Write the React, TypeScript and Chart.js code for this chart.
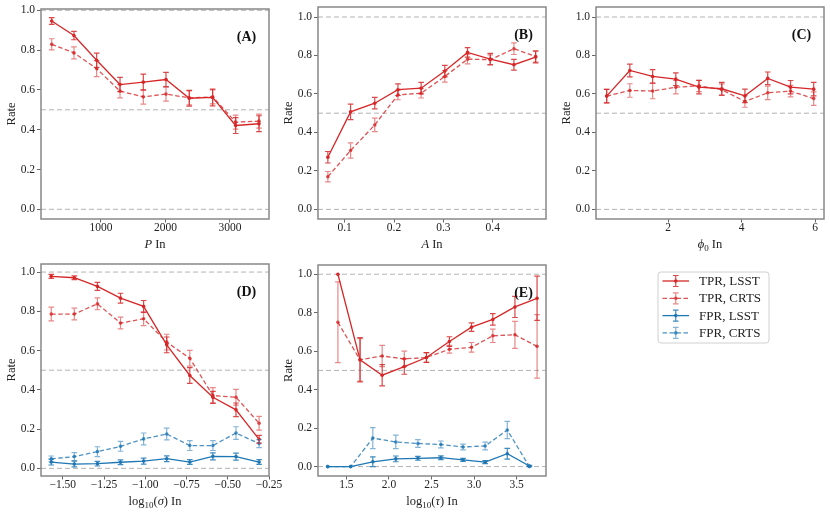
import React, { useEffect, useRef } from 'react';
import { Chart, registerables } from 'chart.js';

Chart.register(...registerables);

const FONT = "'Liberation Serif', 'DejaVu Serif', serif";
Chart.defaults.font.family = FONT;

// ---------- data ----------
const yTicks = [0, 0.2, 0.4, 0.6, 0.8, 1.0];
const refLevels = [0, 0.5, 1];

// (A) period P
const aX = [236, 581, 933, 1295, 1656, 2008, 2369, 2731, 3088, 3450];
const aTprLsst = [0.946, 0.873, 0.749, 0.627, 0.639, 0.652, 0.558, 0.562, 0.421, 0.43];
const aTprLsstErr = [0.017, 0.021, 0.036, 0.036, 0.04, 0.036, 0.04, 0.042, 0.04, 0.04];
const aTprCrts = [0.829, 0.786, 0.707, 0.594, 0.565, 0.579, 0.56, 0.565, 0.438, 0.443];
const aTprCrtsErr = [0.028, 0.03, 0.04, 0.034, 0.036, 0.035, 0.035, 0.035, 0.035, 0.035];
const aTicks = [1000, 2000, 3000];
const aTickLabels = ['1000', '2000', '3000'];

// (B) amplitude A
const bX = [0.066, 0.112, 0.161, 0.208, 0.255, 0.303, 0.349, 0.395, 0.443, 0.487];
const bTprLsst = [0.271, 0.507, 0.552, 0.622, 0.63, 0.719, 0.816, 0.781, 0.752, 0.792];
const bTprLsstErr = [0.03, 0.04, 0.03, 0.03, 0.03, 0.03, 0.025, 0.03, 0.028, 0.03];
const bTprCrts = [0.17, 0.306, 0.439, 0.595, 0.604, 0.691, 0.781, 0.778, 0.835, 0.795];
const bTprCrtsErr = [0.027, 0.04, 0.035, 0.025, 0.025, 0.03, 0.025, 0.025, 0.03, 0.03];
const bTicks = [0.1, 0.2, 0.3, 0.4];
const bTickLabels = ['0.1', '0.2', '0.3', '0.4'];

// (C) phase phi_0
const cX = [0.33, 0.96, 1.58, 2.21, 2.84, 3.46, 4.09, 4.71, 5.33, 5.96];
const cTprLsst = [0.589, 0.722, 0.691, 0.677, 0.635, 0.627, 0.59, 0.681, 0.635, 0.625];
const cTprLsstErr = [0.035, 0.033, 0.035, 0.033, 0.035, 0.033, 0.035, 0.033, 0.035, 0.035];
const cTprCrts = [0.589, 0.618, 0.615, 0.635, 0.642, 0.622, 0.561, 0.606, 0.615, 0.576];
const cTprCrtsErr = [0.035, 0.035, 0.04, 0.035, 0.03, 0.03, 0.03, 0.035, 0.03, 0.035];
const cTicks = [2, 4, 6];
const cTickLabels = ['2', '4', '6'];

// (D) log10(sigma)
const dX = [-1.57, -1.43, -1.29, -1.15, -1.01, -0.87, -0.73, -0.59, -0.45, -0.31];
const dTprLsst = [0.978, 0.971, 0.927, 0.867, 0.825, 0.629, 0.473, 0.362, 0.298, 0.148];
const dTprLsstErr = [0.01, 0.01, 0.02, 0.025, 0.03, 0.04, 0.04, 0.03, 0.035, 0.02];
const dTprCrts = [0.786, 0.786, 0.838, 0.74, 0.762, 0.643, 0.561, 0.371, 0.362, 0.23];
const dTprCrtsErr = [0.035, 0.03, 0.03, 0.03, 0.035, 0.04, 0.04, 0.04, 0.04, 0.035];
const dFprLsst = [0.032, 0.022, 0.024, 0.031, 0.037, 0.049, 0.032, 0.061, 0.06, 0.032];
const dFprLsstErr = [0.015, 0.015, 0.012, 0.012, 0.015, 0.015, 0.012, 0.018, 0.018, 0.012];
const dFprCrts = [0.048, 0.06, 0.085, 0.112, 0.15, 0.175, 0.116, 0.116, 0.18, 0.126];
const dFprCrtsErr = [0.015, 0.02, 0.025, 0.025, 0.03, 0.03, 0.025, 0.025, 0.032, 0.02];
const dTicks = [-1.5, -1.25, -1.0, -0.75, -0.5, -0.25];
const dTickLabels = ['\u22121.50', '\u22121.25', '\u22121.00', '\u22120.75', '\u22120.50', '\u22120.25'];

// (E) log10(tau)
const eTprX = [1.4, 1.66, 1.92, 2.18, 2.44, 2.71, 2.97, 3.22, 3.48, 3.74];
const eFprX = [1.28, 1.55, 1.81, 2.08, 2.34, 2.61, 2.87, 3.13, 3.39, 3.65];
const eTprLsst = [1.0, 0.555, 0.475, 0.52, 0.567, 0.65, 0.725, 0.765, 0.83, 0.875];
const eTprLsstErr = [0, 0.115, 0.055, 0.04, 0.025, 0.025, 0.022, 0.03, 0.055, 0.115];
const eTprCrts = [0.75, 0.555, 0.575, 0.56, 0.567, 0.61, 0.62, 0.68, 0.685, 0.625];
const eTprCrtsErr = [0.21, 0.11, 0.055, 0.04, 0.025, 0.02, 0.025, 0.035, 0.07, 0.165];
const eFprLsst = [0, 0, 0.025, 0.04, 0.043, 0.046, 0.035, 0.023, 0.067, 0.003];
const eFprLsstErr = [0, 0, 0.025, 0.015, 0.01, 0.01, 0.008, 0.008, 0.028, 0.003];
const eFprCrts = [0, 0, 0.148, 0.128, 0.12, 0.115, 0.102, 0.107, 0.19, 0];
const eFprCrtsErr = [0, 0, 0.055, 0.035, 0.02, 0.018, 0.015, 0.02, 0.045, 0];
const eTicks = [1.5, 2.0, 2.5, 3.0, 3.5];
const eTickLabels = ['1.5', '2.0', '2.5', '3.0', '3.5'];

// ---------- styles ----------
type Kind = 'tprL' | 'tprC' | 'fprL' | 'fprC';
const STYLE: Record<Kind, { line: string; err: string; dash: number[] }> = {
  tprL: { line: '#d62728', err: 'rgba(214,39,40,0.85)', dash: [] },
  tprC: { line: 'rgba(214,39,40,0.8)', err: 'rgba(214,39,40,0.55)', dash: [4.5, 2.5] },
  fprL: { line: '#1f77b4', err: 'rgba(31,119,180,0.85)', dash: [] },
  fprC: { line: 'rgba(31,119,180,0.8)', err: 'rgba(31,119,180,0.55)', dash: [4.5, 2.5] },
};
const LABELS: Record<Kind, string> = {
  tprL: 'TPR, LSST',
  tprC: 'TPR, CRTS',
  fprL: 'FPR, LSST',
  fprC: 'FPR, CRTS',
};

type Series = { kind: Kind; x: number[]; y: number[]; err: number[] };
type Part = { t: string; i?: boolean; sub?: boolean };
type PanelCfg = {
  tag: string;
  L: number; T: number; W: number; H: number;
  xMin: number; xMax: number; yMin: number; yMax: number;
  xTicks: number[]; xTickLabels: string[];
  xLabel: Part[];
  series: Series[];
  padR: number;
  legend?: { x: number; y: number; w: number; h: number };
};

const PADT = 10;
const YAXW = 41;
const XAXH = 34;

const panels: PanelCfg[] = [
  {
    tag: '(A)', L: 41, T: 9, W: 228, H: 210,
    xMin: 70, xMax: 3605, yMin: -0.0487, yMax: 1.0065,
    xTicks: aTicks, xTickLabels: aTickLabels,
    xLabel: [{ t: 'P', i: true }, { t: ' In' }],
    series: [
      { kind: 'tprL', x: aX, y: aTprLsst, err: aTprLsstErr },
      { kind: 'tprC', x: aX, y: aTprCrts, err: aTprCrtsErr },
    ],
    padR: 20,
  },
  {
    tag: '(B)', L: 318, T: 7, W: 228, H: 212,
    xMin: 0.046, xMax: 0.508, yMin: -0.05, yMax: 1.052,
    xTicks: bTicks, xTickLabels: bTickLabels,
    xLabel: [{ t: 'A', i: true }, { t: ' In' }],
    series: [
      { kind: 'tprL', x: bX, y: bTprLsst, err: bTprLsstErr },
      { kind: 'tprC', x: bX, y: bTprCrts, err: bTprCrtsErr },
    ],
    padR: 20,
  },
  {
    tag: '(C)', L: 596, T: 7, W: 228, H: 212,
    xMin: 0.04, xMax: 6.24, yMin: -0.05, yMax: 1.052,
    xTicks: cTicks, xTickLabels: cTickLabels,
    xLabel: [{ t: '\u03d5', i: true }, { t: '0', sub: true }, { t: ' In' }],
    series: [
      { kind: 'tprL', x: cX, y: cTprLsst, err: cTprLsstErr },
      { kind: 'tprC', x: cX, y: cTprCrts, err: cTprCrtsErr },
    ],
    padR: 4,
  },
  {
    tag: '(D)', L: 41, T: 264, W: 228, H: 212,
    xMin: -1.632, xMax: -0.25, yMin: -0.039, yMax: 1.041,
    xTicks: dTicks, xTickLabels: dTickLabels,
    xLabel: [{ t: 'log' }, { t: '10', sub: true }, { t: '(' }, { t: '\u03c3', i: true }, { t: ') In' }],
    series: [
      { kind: 'tprL', x: dX, y: dTprLsst, err: dTprLsstErr },
      { kind: 'tprC', x: dX, y: dTprCrts, err: dTprCrtsErr },
      { kind: 'fprL', x: dX, y: dFprLsst, err: dFprLsstErr },
      { kind: 'fprC', x: dX, y: dFprCrts, err: dFprCrtsErr },
    ],
    padR: 20,
  },
  {
    tag: '(E)', L: 318, T: 265, W: 228, H: 211,
    xMin: 1.166, xMax: 3.845, yMin: -0.049, yMax: 1.048,
    xTicks: eTicks, xTickLabels: eTickLabels,
    xLabel: [{ t: 'log' }, { t: '10', sub: true }, { t: '(' }, { t: '\u03c4', i: true }, { t: ') In' }],
    series: [
      { kind: 'tprL', x: eTprX, y: eTprLsst, err: eTprLsstErr },
      { kind: 'tprC', x: eTprX, y: eTprCrts, err: eTprCrtsErr },
      { kind: 'fprL', x: eFprX, y: eFprLsst, err: eFprLsstErr },
      { kind: 'fprC', x: eFprX, y: eFprCrts, err: eFprCrtsErr },
    ],
    padR: 232,
    legend: { x: 658, y: 272, w: 111, h: 71 },
  },
];

function drawParts(ctx: CanvasRenderingContext2D, parts: Part[], cx: number, cy: number, size: number) {
  const fontOf = (p: Part) => `${p.i ? 'italic ' : ''}${p.sub ? size * 0.72 : size}px ${FONT}`;
  let w = 0;
  parts.forEach(p => { ctx.font = fontOf(p); w += ctx.measureText(p.t).width; });
  let x = cx - w / 2;
  ctx.textAlign = 'left';
  ctx.textBaseline = 'middle';
  parts.forEach(p => {
    ctx.font = fontOf(p);
    ctx.fillText(p.t, x, cy + (p.sub ? size * 0.3 : 0));
    x += ctx.measureText(p.t).width;
  });
}

function errBar(ctx: CanvasRenderingContext2D, x: number, y1: number, y2: number, cap: number) {
  ctx.beginPath();
  ctx.moveTo(x, y1); ctx.lineTo(x, y2);
  ctx.moveTo(x - cap, y1); ctx.lineTo(x + cap, y1);
  ctx.moveTo(x - cap, y2); ctx.lineTo(x + cap, y2);
  ctx.stroke();
}

function makeDecor(cfg: PanelCfg) {
  return {
    id: 'decor' + cfg.tag,
    beforeDatasetsDraw(chart: Chart) {
      const { ctx, chartArea: a, scales } = chart;
      ctx.save();
      ctx.strokeStyle = '#b3b3b3';
      ctx.lineWidth = 1;
      ctx.setLineDash([5, 3]);
      refLevels.forEach(v => {
        const y = scales.y.getPixelForValue(v);
        ctx.beginPath();
        ctx.moveTo(a.left, y);
        ctx.lineTo(a.right, y);
        ctx.stroke();
      });
      ctx.restore();
    },
    afterDatasetsDraw(chart: Chart) {
      const { ctx, chartArea: a, scales } = chart;
      ctx.save();
      ctx.setLineDash([]);
      ctx.lineWidth = 1.2;
      cfg.series.forEach(s => {
        ctx.strokeStyle = STYLE[s.kind].err;
        s.x.forEach((xv, i) => {
          const e = s.err[i];
          if (!e) return;
          const px = scales.x.getPixelForValue(xv);
          errBar(ctx, px, scales.y.getPixelForValue(s.y[i] - e), scales.y.getPixelForValue(s.y[i] + e), 2.8);
        });
      });
      // spines
      ctx.strokeStyle = '#888888';
      ctx.lineWidth = 1.5;
      ctx.strokeRect(a.left, a.top, a.right - a.left, a.bottom - a.top);
      // panel tag
      ctx.fillStyle = '#111';
      ctx.font = `bold 14px ${FONT}`;
      ctx.textAlign = 'center';
      ctx.textBaseline = 'middle';
      ctx.fillText(cfg.tag, a.right - 22.5, a.top + 28);
      // x label
      ctx.fillStyle = '#222';
      drawParts(ctx, cfg.xLabel, (a.left + a.right) / 2, a.bottom + 25.5, 12.5);
      // legend
      if (cfg.legend) {
        const ox = cfg.L - YAXW;
        const oy = cfg.T - PADT;
        const lg = cfg.legend;
        const bx = lg.x - ox;
        const by = lg.y - oy;
        ctx.fillStyle = 'rgba(255,255,255,0.85)';
        ctx.strokeStyle = '#d0d0d0';
        ctx.lineWidth = 1;
        ctx.beginPath();
        ctx.roundRect(bx, by, lg.w, lg.h, 3);
        ctx.fill();
        ctx.stroke();
        cfg.series.forEach((s, i) => {
          const st = STYLE[s.kind];
          const ry = by + 9 + i * 17.3;
          const hx1 = bx + 4.5;
          const hx2 = bx + 31;
          const hc = (hx1 + hx2) / 2;
          ctx.strokeStyle = st.line;
          ctx.lineWidth = 1.3;
          ctx.setLineDash(st.dash);
          ctx.beginPath();
          ctx.moveTo(hx1, ry);
          ctx.lineTo(hx2, ry);
          ctx.stroke();
          ctx.setLineDash([]);
          ctx.strokeStyle = st.err;
          ctx.lineWidth = 1.2;
          errBar(ctx, hc, ry - 5.5, ry + 5.5, 2.8);
          ctx.fillStyle = st.line;
          ctx.beginPath();
          ctx.arc(hc, ry, 1.8, 0, Math.PI * 2);
          ctx.fill();
          ctx.fillStyle = '#222';
          ctx.font = `13px ${FONT}`;
          ctx.textAlign = 'left';
          ctx.textBaseline = 'middle';
          ctx.fillText(LABELS[s.kind], bx + 41, ry + 0.5);
        });
      }
      ctx.restore();
    },
  };
}

const Panel: React.FC<{ cfg: PanelCfg }> = ({ cfg }) => {
  const canvasRef = useRef<HTMLCanvasElement>(null);

  useEffect(() => {
    if (!canvasRef.current) return;
    const chart = new Chart(canvasRef.current, {
      type: 'scatter',
      data: {
        datasets: cfg.series.map(s => {
          const st = STYLE[s.kind];
          return {
            label: LABELS[s.kind],
            data: s.x.map((x, i) => ({ x, y: s.y[i] })),
            showLine: true,
            borderColor: st.line,
            backgroundColor: st.line,
            borderDash: st.dash,
            borderWidth: 1.3,
            pointRadius: 1.8,
            pointBorderWidth: 0,
            pointBackgroundColor: st.line,
          };
        }),
      },
      options: {
        animation: false,
        responsive: true,
        maintainAspectRatio: false,
        layout: { padding: { top: PADT, right: cfg.padR, left: 0, bottom: 0 } },
        plugins: { legend: { display: false }, tooltip: { enabled: false } },
        scales: {
          x: {
            type: 'linear',
            min: cfg.xMin,
            max: cfg.xMax,
            afterBuildTicks: (s: any) => { s.ticks = cfg.xTicks.map(v => ({ value: v })); },
            afterFit: (s: any) => { s.height = XAXH; },
            ticks: {
              callback: (_v: any, i: number) => cfg.xTickLabels[i],
              font: { size: 11.5 },
              color: '#222',
              padding: -1,
              maxRotation: 0,
              autoSkip: false,
            },
            grid: { display: true, drawOnChartArea: false, drawTicks: true, tickLength: 3.5, color: '#666' },
            border: { display: false },
          },
          y: {
            type: 'linear',
            min: cfg.yMin,
            max: cfg.yMax,
            afterBuildTicks: (s: any) => { s.ticks = yTicks.map(v => ({ value: v })); },
            afterFit: (s: any) => { s.width = YAXW; },
            ticks: {
              callback: (v: any) => Number(v).toFixed(1),
              font: { size: 11.5 },
              color: '#222',
              padding: 2,
            },
            grid: { display: true, drawOnChartArea: false, drawTicks: true, tickLength: 4, color: '#666' },
            border: { display: false },
            title: { display: true, text: 'Rate', font: { size: 12.5 }, color: '#222', padding: { top: 4, bottom: 4 } },
          },
        },
      },
      plugins: [makeDecor(cfg)],
    });
    return () => { chart.destroy(); };
  }, [cfg]);

  return (
    <div
      style={{
        position: 'absolute',
        left: cfg.L - YAXW,
        top: cfg.T - PADT,
        width: YAXW + cfg.W + cfg.padR,
        height: PADT + cfg.H + XAXH,
      }}
    >
      <canvas ref={canvasRef} />
    </div>
  );
};

export default function App() {
  return (
    <div style={{ position: 'absolute', left: 0, top: 0, width: 830, height: 514, background: '#fff', overflow: 'hidden' }}>
      {panels.map(p => <Panel key={p.tag} cfg={p} />)}
    </div>
  );
}
